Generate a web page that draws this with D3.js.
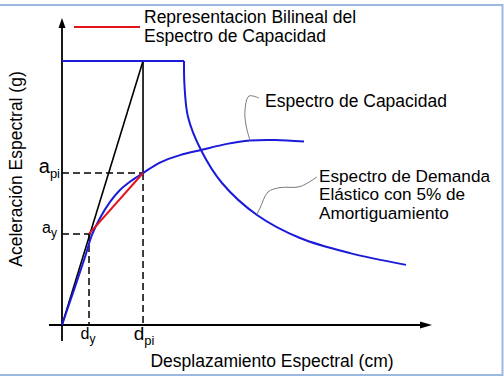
<!DOCTYPE html>
<html>
<head>
<meta charset="utf-8">
<script src="https://cdn.jsdelivr.net/npm/d3@7"></script>
<style>
body { margin: 0; background: #fff; }
svg { display: block; font-family: "Liberation Sans", Arial, sans-serif; }
</style>
</head>
<body>
<svg id="chart"></svg>
<script>
// capacity spectrum (Sd cm, Sa g)
var capSd = [0, 1.76, 3.11, 4.05, 5.14, 6.49, 7.84, 9.32, 10.95, 13.24, 15.95, 18.78, 22.30, 25.41, 28.78, 32.70];
var capSa = [0, 0.149, 0.266, 0.352, 0.418, 0.481, 0.528, 0.563, 0.594, 0.635, 0.664, 0.684, 0.708, 0.721, 0.723, 0.717];

// elastic demand spectrum, 5% damping
var plateauSa = 1.032;
var demSd = [16.49, 16.55, 17.03, 18.78, 21.62, 26.35, 32.16, 38.92, 46.49];
var demSa = [1.032, 0.938, 0.813, 0.684, 0.555, 0.430, 0.340, 0.281, 0.235];

// bilinear points
var dy = 3.65, ay = 0.356;
var dpi = 10.95, api = 0.594;

// leader lines for the labels
var capLeadSd = [26.62, 25.27, 24.73, 24.86, 25.41];
var capLeadSa = [0.887, 0.895, 0.840, 0.782, 0.721];
var demLeadSd = [34.46, 32.16, 29.46, 27.84, 26.76, 26.35];
var demLeadSa = [0.579, 0.541, 0.537, 0.520, 0.457, 0.434];

var legendLines = ["Representacion Bilineal del", "Espectro de Capacidad"];
var demandLines = ["Espectro de Demanda", "Elástico con 5% de", "Amortiguamiento"];

var width = 504, height = 378;
var blue = "#1a1ad8", red = "#e4141c";

var svg = d3.select("#chart").attr("width", width).attr("height", height);

var x = d3.scaleLinear().domain([0, 50]).range([62, 432]);
var y = d3.scaleLinear().domain([0, 1.2]).range([325, 18]);

// frame
svg.append("rect")
  .attr("x", -2).attr("y", 5)
  .attr("width", 504.5).attr("height", 370)
  .attr("fill", "none")
  .attr("stroke", "#9cb9e2")
  .attr("stroke-width", 2);

// axes
svg.append("line")
  .attr("x1", x(-1.76)).attr("y1", y(0))
  .attr("x2", x(50) - 10).attr("y2", y(0))
  .attr("stroke", "#000").attr("stroke-width", 1.8);
svg.append("path")
  .attr("d", "M" + x(50) + "," + y(0) + "l-12,-3.5v7z")
  .attr("fill", "#000");
svg.append("line")
  .attr("x1", x(0)).attr("y1", y(-0.0625))
  .attr("x2", x(0)).attr("y2", y(1.2) + 8)
  .attr("stroke", "#000").attr("stroke-width", 1.8);
svg.append("path")
  .attr("d", "M" + x(0) + "," + y(1.2) + "l-3.5,10h7z")
  .attr("fill", "#000");

// dashed guides
var dash = "7,4";
function guide(x1, y1, x2, y2) {
  svg.append("line")
    .attr("x1", x(x1)).attr("y1", y(y1))
    .attr("x2", x(x2)).attr("y2", y(y2))
    .attr("stroke", "#000").attr("stroke-width", 1.5)
    .attr("stroke-dasharray", dash);
}
guide(0, api, dpi, api);
guide(0, ay, dy, ay);
guide(dy, ay, dy, 0);
guide(dpi, api, dpi, 0);

// secant + vertical at dpi
svg.append("line")
  .attr("x1", x(0)).attr("y1", y(0))
  .attr("x2", x(dpi)).attr("y2", y(plateauSa))
  .attr("stroke", "#000").attr("stroke-width", 1.6);
svg.append("line")
  .attr("x1", x(dpi)).attr("y1", y(plateauSa))
  .attr("x2", x(dpi)).attr("y2", y(api))
  .attr("stroke", "#000").attr("stroke-width", 1.6);

var line = d3.line()
  .x(function(d) { return x(d[0]); })
  .y(function(d) { return y(d[1]); })
  .curve(d3.curveCatmullRom.alpha(0.5));

// demand spectrum
svg.append("line")
  .attr("x1", x(0)).attr("y1", y(plateauSa))
  .attr("x2", x(demSd[0])).attr("y2", y(plateauSa))
  .attr("stroke", blue).attr("stroke-width", 2);
svg.append("path")
  .datum(d3.zip(demSd, demSa))
  .attr("d", line)
  .attr("fill", "none").attr("stroke", blue).attr("stroke-width", 2);

// capacity spectrum
svg.append("path")
  .datum(d3.zip(capSd, capSa))
  .attr("d", line)
  .attr("fill", "none").attr("stroke", blue).attr("stroke-width", 2);

// bilinear
svg.append("line")
  .attr("x1", x(dy)).attr("y1", y(ay))
  .attr("x2", x(dpi)).attr("y2", y(api))
  .attr("stroke", red).attr("stroke-width", 2);

// leaders
[[capLeadSd, capLeadSa], [demLeadSd, demLeadSa]].forEach(function(l) {
  svg.append("path")
    .datum(d3.zip(l[0], l[1]))
    .attr("d", line)
    .attr("fill", "none").attr("stroke", "#7a7a7a").attr("stroke-width", 1);
});

// legend
svg.append("line")
  .attr("x1", 74).attr("y1", 27).attr("x2", 140).attr("y2", 27)
  .attr("stroke", red).attr("stroke-width", 2);
svg.selectAll(".legend").data(legendLines).enter().append("text")
  .attr("class", "legend")
  .attr("x", 144).attr("y", function(d, i) { return 23 + i * 19; })
  .attr("font-size", 17.5)
  .text(function(d) { return d; });

svg.append("text")
  .attr("x", 265).attr("y", 107)
  .attr("font-size", 17.5)
  .text("Espectro de Capacidad");

svg.selectAll(".demand").data(demandLines).enter().append("text")
  .attr("class", "demand")
  .attr("x", 319).attr("y", function(d, i) { return 181.8 + i * 18.6; })
  .attr("font-size", 17.2)
  .text(function(d) { return d; });

// axis titles
svg.append("text")
  .attr("x", 272).attr("y", 367)
  .attr("text-anchor", "middle").attr("font-size", 17.5)
  .text("Desplazamiento Espectral (cm)");
svg.append("text")
  .attr("transform", "translate(22,169) rotate(-90)")
  .attr("text-anchor", "middle").attr("font-size", 17.5)
  .text("Aceleración Espectral (g)");

// point labels with subscripts
function subLabel(px, py, anchor, main, sub, big, small, drop) {
  var t = svg.append("text")
    .attr("x", px).attr("y", py)
    .attr("text-anchor", anchor);
  t.append("tspan").attr("font-size", big).text(main);
  t.append("tspan").attr("font-size", small).attr("dy", drop).text(sub);
}
subLabel(x(0) - 2, y(api), "end", "a", "pi", 20, 13, 5);
subLabel(x(0) - 5, y(ay) - 1, "end", "a", "y", 16, 12, 4);
subLabel(x(dy) - 1, 339, "middle", "d", "y", 16, 12, 4);
subLabel(x(dpi) + 1, 340, "middle", "d", "pi", 19, 13, 5);
</script>
</body>
</html>
